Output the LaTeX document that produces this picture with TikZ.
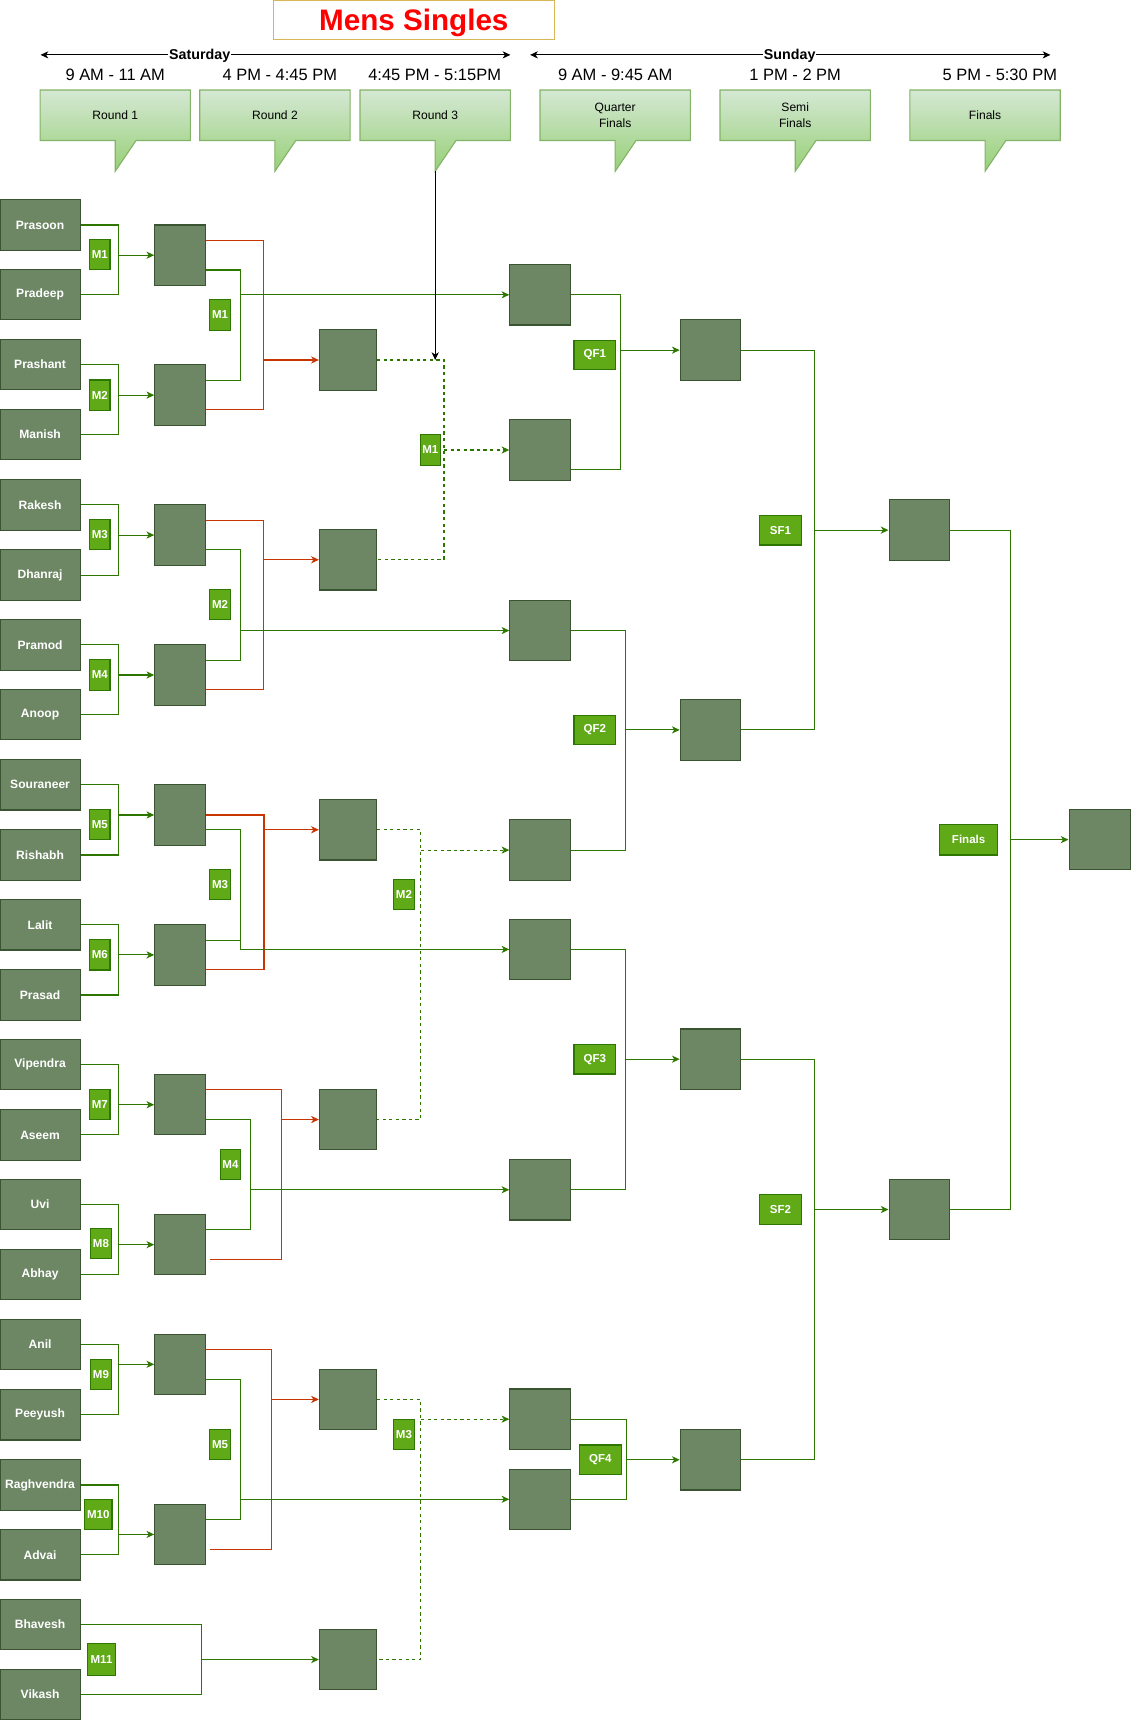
\documentclass[tikz,border=0pt]{standalone}
\usepackage{fontspec}
\setmainfont{Liberation Sans}
\usetikzlibrary{arrows.meta,calc}
\definecolor{boxfill}{HTML}{6D8764}
\definecolor{boxdraw}{HTML}{3A5431}
\definecolor{labfill}{HTML}{60A917}
\definecolor{labdraw}{HTML}{2D7600}
\definecolor{gline}{HTML}{2D7600}
\definecolor{rline}{HTML}{C73500}
\definecolor{caltop}{HTML}{D5E8D4}
\definecolor{calbot}{HTML}{97D077}
\definecolor{caldraw}{HTML}{82B366}
\definecolor{titlebd}{HTML}{D6B656}
\begin{document}
\begin{tikzpicture}[x=1pt,y=-1pt,
  >={Stealth[length=7pt,width=6.5pt,inset=2pt]},
  player/.style={draw=boxdraw, fill=boxfill, line width=1pt, minimum width=73pt, minimum height=46pt, inner sep=0pt, text=white, font=\bfseries\fontsize{11}{13}\selectfont},
  slot/.style={draw=boxdraw, fill=boxfill, line width=1pt, inner sep=0pt, minimum height=55pt},
  mlab/.style={draw=labdraw, fill=labfill, line width=1pt, text=white, inner sep=0pt, minimum width=18.5pt, minimum height=27.5pt, font=\bfseries\fontsize{10.5}{12}\selectfont},
  gl/.style={draw=gline, line width=1pt},
  ga/.style={gl, ->},
  rl/.style={draw=rline, line width=1pt},
  ra/.style={rl, ->},
  gd/.style={gl, dash pattern=on 3pt off 3pt},
  gda/.style={gd, ->},
  callout/.style={draw=caldraw, line width=1pt, top color=caltop, bottom color=calbot},
  times/.style={font=\fontsize{15}{18}\selectfont, inner sep=0pt},
  day/.style={font=\bfseries\fontsize{13}{15}\selectfont, fill=white, inner sep=0.8pt},
  harrow/.style={line width=1pt, <->, black},
  caltext/.style={font=\fontsize{11}{14}\selectfont, align=center, inner sep=0pt}
]
\useasboundingbox (0,0) rectangle (1030,1568);

% ---------- header ----------
\node[draw=titlebd, line width=1pt, fill=white, minimum width=256pt, minimum height=36pt, inner sep=0pt, text=red, font=\bfseries\fontsize{27}{30}\selectfont] (title) at (377,18) {\raisebox{-3pt}[\height][\depth]{Mens Singles}};

\coordinate (satl) at (37,50);
\coordinate (satr) at (465,50);
\coordinate (sunl) at (483,50);
\coordinate (sunr) at (957,50);
\draw[harrow] (satl) -- (satr);
\draw[harrow] (sunl) -- (sunr);
\node[day] (sat) at (182,50.5) {Saturday};
\node[day] (sun) at (719.5,50.5) {Sunday};

\node[times] (tm1) at (105,68.5) {9 AM - 11 AM};
\node[times] (tm2) at (255,68.5) {4 PM - 4:45 PM};
\node[times] (tm3) at (396,68.5) {4:45 PM - 5:15PM};
\node[times] (tm4) at (560.5,68.5) {9 AM - 9:45 AM};
\node[times] (tm5) at (724.5,68.5) {1 PM - 2 PM};
\node[times] (tm6) at (911,68.5) {5 PM - 5:30 PM};

\foreach \cx/\nm/\txt in {105/ca/Round 1, 250.5/cb/Round 2, 396.5/cc/Round 3, 560.5/cd/Quarter\\Finals, 724.5/ce/Semi\\Finals, 897.5/cf/Finals}{
  \path[callout] (\cx-68.5,82) -- (\cx+68.5,82) -- (\cx+68.5,128) -- (\cx+19,128) -- (\cx,156) -- (\cx,128) -- (\cx-68.5,128) -- cycle;
  \node[caltext] (\nm) at (\cx,105) {\txt};
}
\coordinate (c3tip) at (396.5,156);
\coordinate (c3hit) at (396.5,328);

% ---------- players ----------
\foreach \n/\t/\y in {p1/Prasoon/205, p2/Pradeep/268.5, p3/Prashant/332, p4/Manish/396,
  p5/Rakesh/460, p6/Dhanraj/524, p7/Pramod/587.5, p8/Anoop/651, p9/Souraneer/715,
  p10/Rishabh/779, p11/Lalit/842.5, p12/Prasad/906.5, p13/Vipendra/970, p14/Aseem/1034,
  p15/Uvi/1097.5, p16/Abhay/1161, p17/Anil/1225, p18/Peeyush/1289, p19/Raghvendra/1353,
  p20/Advai/1416.5, p21/Bhavesh/1480, p22/Vikash/1544}
  \node[player] (\n) at (36.5,\y) {\t};

% ---------- round 2 slots ----------
\foreach \n/\y in {r1/232.5, r2/360, r3/487.5, r4/615, r5/742.5, r6/870, r7/1006.5, r8/1134, r9/1243, r10/1398}
  \node[slot, minimum width=46pt] (\n) at (164,\y) {};

% ---------- round 3 slots ----------
\foreach \n/\y in {t1/328, t2/510, t3/756, t4/1020, t5/1275, t6/1512}
  \node[slot, minimum width=52pt] (\n) at (317,\y) {};

% ---------- quarter final slots ----------
\foreach \n/\y in {q1/268.6, q2/410, q3/574.5, q4/774.5, q5/865, q6/1084, q7/1293, q8/1366}
  \node[slot, minimum width=55pt] (\n) at (492,\y) {};

% ---------- semi final slots ----------
\foreach \n/\y in {s1/319, s2/665, s3/965, s4/1330}
  \node[slot, minimum width=54.5pt] (\n) at (647,\y) {};

% ---------- final slots ----------
\node[slot, minimum width=55pt] (f1) at (837.5,483) {};
\node[slot, minimum width=55pt] (f2) at (837.5,1102) {};
\node[slot, minimum width=56pt] (w) at (1002,765) {};

% ---------- round 1 connectors ----------
\foreach \a/\b/\r in {p1/p2/r1, p3/p4/r2, p5/p6/r3, p7/p8/r4, p9/p10/r5, p11/p12/r6, p13/p14/r7, p15/p16/r8, p17/p18/r9, p19/p20/r10}{
  \draw[gl] (\a.east) -- ++(34.5,0) coordinate (j) |- (\b.east);
  \draw[ga] (j |- \r.west) -- (\r.west);
}
\draw[gl] (p21.east) -- ++(110,0) coordinate (j11) |- (p22.east);
\draw[ga] (j11 |- t6.west) -- (t6.west);

% ---------- round 2 connectors ----------
% group 1
\draw[rl] ($(r1.east)+(0,-13.5)$) -- ++(52.5,0) coordinate (rv1) |- ($(r2.east)+(0,13.5)$);
\draw[ra] (rv1 |- t1.west) -- (t1.west);
\draw[gl] ($(r1.east)+(0,13.5)$) -- ++(32,0) coordinate (gv1) |- ($(r2.east)+(0,-13.5)$);
\draw[ga] (gv1 |- q1.west) -- (q1.west);
% group 2
\draw[rl] ($(r3.east)+(0,-13.5)$) -- ++(52.5,0) coordinate (rv2) |- ($(r4.east)+(0,13.5)$);
\draw[ra] (rv2 |- t2.west) -- (t2.west);
\draw[gl] ($(r3.east)+(0,13.5)$) -- ++(32,0) coordinate (gv2) |- ($(r4.east)+(0,-13.5)$);
\draw[ga] (gv2 |- q3.west) -- (q3.west);
% group 3
\draw[rl] (r5.east) -- ++(53,0) coordinate (rv3) |- ($(r6.east)+(0,13.5)$);
\draw[ra] (rv3 |- t3.west) -- (t3.west);
\draw[ga] ($(r5.east)+(0,13.5)$) -- ++(32,0) coordinate (gv3) |- (q5.west);
\draw[gl] ($(r6.east)+(0,-13.5)$) -- ($(gv3 |- r6.east)+(0,-13.5)$);
% group 4
\draw[rl] ($(r7.east)+(0,-13.5)$) -- ++(69,0) coordinate (rv4) |- ($(r8.east)+(4,13.5)$);
\draw[ra] (rv4 |- t4.west) -- (t4.west);
\draw[gl] ($(r7.east)+(0,13.5)$) -- ++(41,0) coordinate (gv4) |- ($(r8.east)+(0,-13.5)$);
\draw[ga] (gv4 |- q6.west) -- (q6.west);
% group 5
\draw[rl] ($(r9.east)+(0,-13.5)$) -- ++(59.5,0) coordinate (rv5) |- ($(r10.east)+(4,13.5)$);
\draw[ra] (rv5 |- t5.west) -- (t5.west);
\draw[gl] ($(r9.east)+(0,13.5)$) -- ++(32,0) coordinate (gv5) |- ($(r10.east)+(0,-13.5)$);
\draw[ga] (gv5 |- q8.west) -- (q8.west);

% ---------- round 3 connectors (dashed) ----------
\draw[gd] (t1.east) -- ++(61,0) coordinate (d1) |- (t2.east);
\draw[gda] (d1 |- q2.west) -- (q2.west);
\draw[gd] (t3.east) -- ++(40,0) coordinate (d2) |- (t4.east);
\draw[gda] (d2 |- q4.west) -- (q4.west);
\draw[gd] (t5.east) -- ++(40,0) coordinate (d3) |- (t6.east);
\draw[gda] (d3 |- q7.west) -- (q7.west);

% ---------- quarter final connectors ----------
\draw[gl] (q1.east) -- ++(45.5,0) coordinate (e1) |- ($(q2.east)+(0,18)$);
\draw[ga] (e1 |- s1.west) -- (s1.west);
\draw[gl] (q3.east) -- ++(50,0) coordinate (e2) |- (q4.east);
\draw[ga] (e2 |- s2.west) -- (s2.west);
\draw[gl] (q5.east) -- ++(50,0) coordinate (e3) |- (q6.east);
\draw[ga] (e3 |- s3.west) -- (s3.west);
\draw[gl] (q7.east) -- ++(50.5,0) coordinate (e4) |- (q8.east);
\draw[ga] (e4 |- s4.west) -- (s4.west);

% ---------- semi final connectors ----------
\draw[gl] (s1.east) -- ++(67.5,0) coordinate (h1) |- (s2.east);
\draw[ga] (h1 |- f1.west) -- (f1.west);
\draw[gl] (s3.east) -- ++(67.5,0) coordinate (h2) |- (s4.east);
\draw[ga] (h2 |- f2.west) -- (f2.west);

% ---------- final connector ----------
\draw[gl] (f1.east) -- ++(55,0) coordinate (k1) |- (f2.east);
\draw[ga] (k1 |- w.west) -- (w.west);

% ---------- round 3 pointer ----------
\draw[line width=1pt, ->, black] (c3tip) -- (c3hit);

% ---------- match labels ----------
\foreach \n/\t/\x/\y in {l1/M1/91/232, l2/M2/91/360, l3/M3/91/487, l4/M4/91/615, l5/M5/91/751, l6/M6/91/870, l7/M7/91/1006.5, l8/M8/92/1133, l9/M9/92/1252}
  \node[mlab] (\n) at (\x,\y) {\t};
\node[mlab, minimum width=25pt] (l10) at (89.5,1380) {M10};
\node[mlab, minimum width=25pt, minimum height=29pt] (l11) at (92.5,1512) {M11};

\foreach \n/\t/\x/\y in {m1/M1/200.5/287, m2/M2/200.5/551, m3/M3/200.5/806, m4/M4/210/1061, m5/M5/200.5/1316,
  n1/M1/392/410, n2/M2/368/815, n3/M3/368/1307}
  \node[mlab] (\n) at (\x,\y) {\t};

\foreach \n/\t/\x/\y in {qf1/QF1/542/323.5, qf2/QF2/542/665, qf3/QF3/542/965, qf4/QF4/547/1330, sf1/SF1/711/483, sf2/SF2/711/1102}
  \node[mlab, minimum width=38pt, minimum height=27pt] (\n) at (\x,\y) {\t};
\node[mlab, minimum width=53pt, minimum height=28pt] (fin) at (882.5,765) {Finals};
\end{tikzpicture}
\end{document}
